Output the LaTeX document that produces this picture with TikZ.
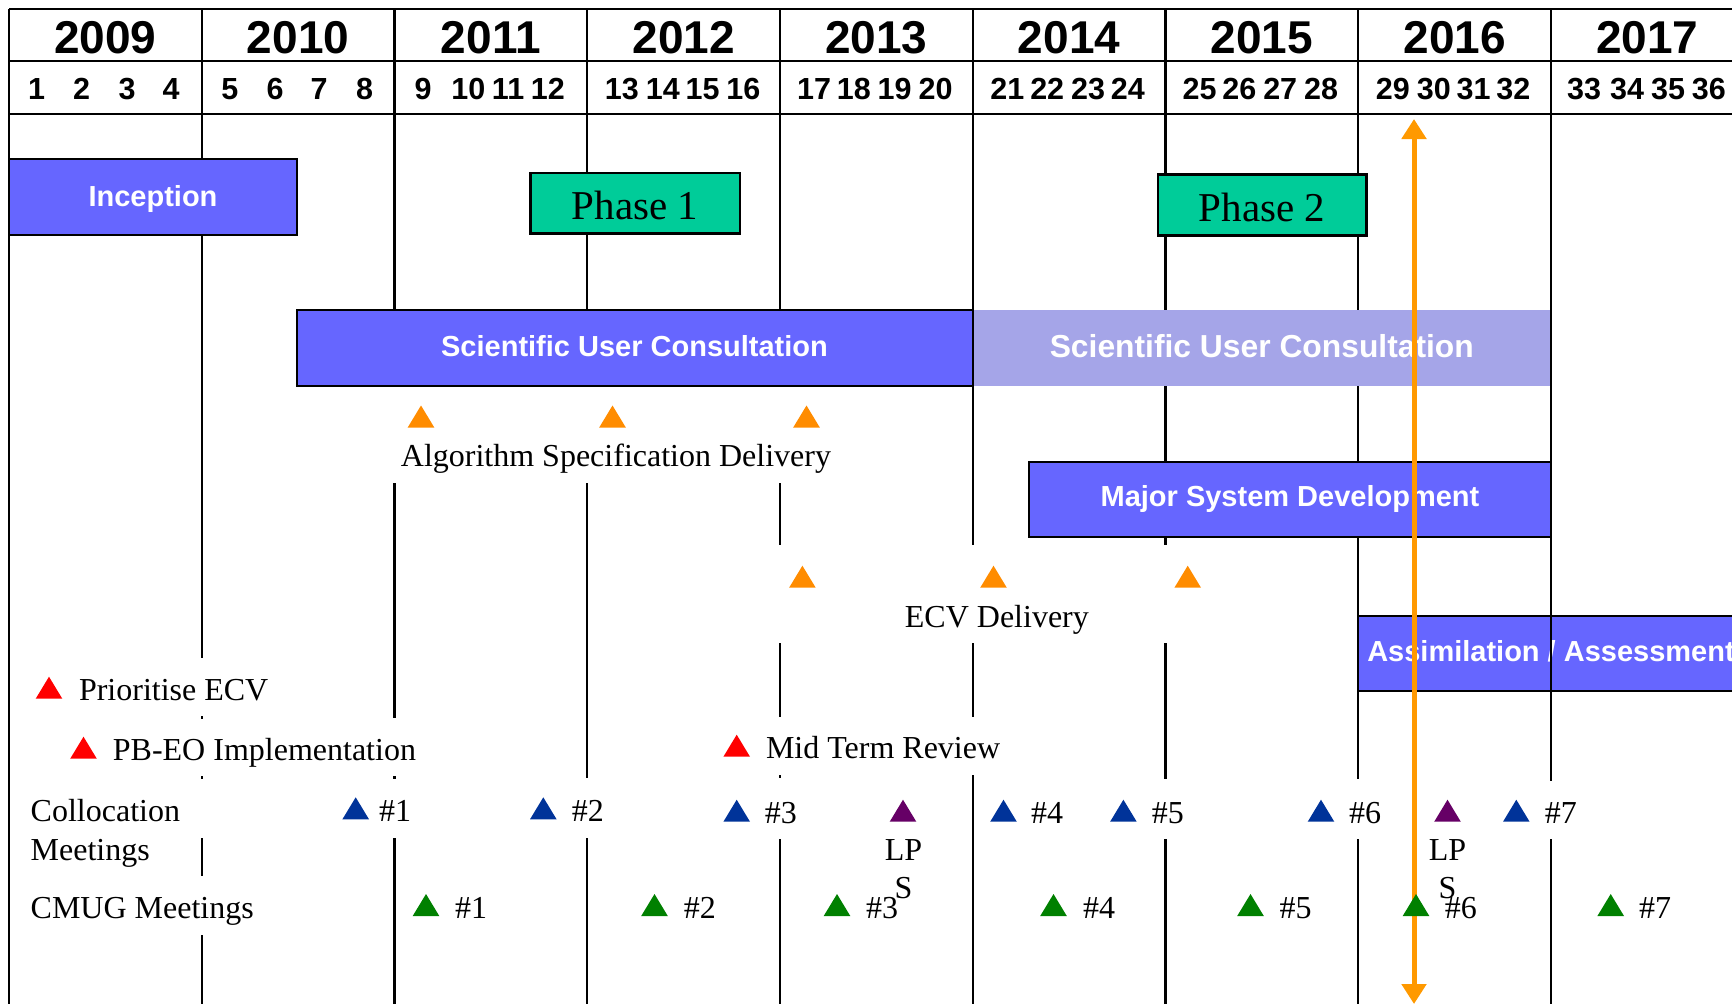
\documentclass[tikz,border=0pt]{standalone}
\usepackage{fontspec}
\setmainfont{Liberation Serif}
\setsansfont{Liberation Sans}
\usetikzlibrary{arrows.meta}
\definecolor{boxblue}{HTML}{6666FF}
\definecolor{boxlight}{HTML}{A5A5E8}
\definecolor{phasegreen}{HTML}{00CC99}
\definecolor{triorange}{HTML}{FF8C00}
\definecolor{arroworange}{HTML}{FF9900}
\definecolor{mred}{HTML}{FF0000}
\definecolor{mblue}{HTML}{003399}
\definecolor{mpurple}{HTML}{660066}
\definecolor{mgreen}{HTML}{008000}
\newcommand\mtri[3]{\fill[#1] ({#2-13.3},{#3}) -- ({#2+13.3},{#3}) -- ({#2},{#3-22}) -- cycle;}
\begin{document}
\begin{tikzpicture}[x=1pt,y=-1pt,
  gridline/.style={line width=2.2pt, black},
  headline/.style={line width=2.6pt, black},
  bar/.style={draw=black, line width=2.4pt, fill=boxblue},
  phasebox/.style={draw=black, line width=2.4pt, fill=phasegreen},
  bartext/.style={text=white, font=\sffamily\bfseries\fontsize{29}{33}\selectfont, inner sep=0pt, anchor=base},
  bigbartext/.style={text=white, font=\sffamily\bfseries\fontsize{31.8}{35}\selectfont, inner sep=0pt, anchor=base},
  phasetext/.style={font=\fontsize{41}{45}\selectfont, inner sep=0pt, anchor=base},
  lbl/.style={font=\fontsize{32}{36}\selectfont, inner sep=0pt, anchor=base west},
  lblc/.style={font=\fontsize{32}{36}\selectfont, inner sep=0pt, anchor=base},
  yeartext/.style={font=\sffamily\bfseries\fontsize{46}{50}\selectfont, inner sep=0pt, anchor=base},
  numtext/.style={font=\sffamily\bfseries\fontsize{30.5}{34}\selectfont, inner sep=0pt, anchor=base},
]
\useasboundingbox (0,0) rectangle (1732,1004);
\fill[white] (0,0) rectangle (1732,1004);
\clip (0,0) rectangle (1732,1004);

% vertical grid line segments
\foreach \x/\a/\b in {
  9/9/1004,
  201.75/9/658, 201.75/716/719, 201.75/776/779, 201.75/838/876, 201.75/935/1004,
  394.5/9/310, 394.5/483/718, 394.5/776/779, 394.5/838/1004,
  587.25/9/310, 587.25/483/778, 587.25/838/1004,
  780/9/310, 780/483/545, 780/643/717, 780/775/778, 780/839/1004,
  972.75/9/545, 972.75/643/717, 972.75/775/1004,
  1165.5/9/310, 1165.5/386/462, 1165.5/537/545, 1165.5/643/779, 1165.5/839/1004,
  1358.25/9/310, 1358.25/386/462, 1358.25/537/616, 1358.25/691/779, 1358.25/839/1004}
  \draw[gridline] (\x,\a) -- (\x,\b);

% header lines
\draw[headline] (9,9) -- (1732,9);
\draw[headline] (9,61) -- (1732,61);
\draw[headline] (9,114) -- (1732,114);

% years
\foreach \yr [count=\i from 0] in {2009,2010,2011,2012,2013,2014,2015,2016,2017}
  \node[yeartext] (y\yr) at ({9+192.75*(\i+0.5)},53.3) {\yr};

% quarter numbers
\foreach \n/\x in {1/36.5,2/81.7,3/127,4/171.2,5/229.8,6/275,7/319.2,8/364.5,
  9/423,10/468.4,11/508.1,12/547.9,13/621.9,14/662.8,15/702.5,16/743.4,
  17/814.1,18/853.9,19/894.7,20/935.6,21/1007.4,22/1047.2,23/1088,24/1127.8,
  25/1199.6,26/1239.4,27/1280.2,28/1321.1,29/1392.9,30/1433.8,31/1473.5,32/1513.3,
  33/1584,34/1627.1,35/1668,36/1708.8}
  \node[numtext] (q\n) at (\x,99.3) {\n};

% bars
\draw[bar] (9,159) rectangle (297,235);
\draw[phasebox] (530.5,173) rectangle (739.7,233.3);
\draw[phasebox] (1157.8,174.3) rectangle (1366.4,235.3);
\fill[boxlight] (972.75,310) rectangle (1551,386);
\draw[bar] (297,310) rectangle (972.75,386);
\draw[bar] (1029,462) rectangle (1551,537);
\draw[bar] (1358.25,616) rectangle (1770,691);

\node[bartext] (inception) at (153,206) {Inception};
\node[phasetext] (phase1) at (635,219.5) {Phase 1};
\node[phasetext] (phase2) at (1262,221.2) {Phase 2};
\node[bartext] (suc1) at (634.5,356.7) {Scientific User Consultation};
\node[bigbartext] (suc2) at (1261.8,357) {Scientific User Consultation};
\node[bartext] (msd) at (1290,506.7) {Major System Development};
\node[bartext] (assim) at (1551,661) {Assimilation / Assessment};

% last year line, drawn over the boxes
\draw[gridline] (1551,9) -- (1551,781);
\draw[gridline] (1551,839) -- (1551,1004);

% orange arrow
\coordinate (atop) at (1414,119);
\coordinate (abot) at (1414,1004);
\draw[line width=5pt, arroworange, {Triangle[length=20pt,width=24pt]}-{Triangle[length=20pt,width=24pt]}] (abot) -- (atop);

% algorithm specification delivery
\mtri{triorange}{421}{427.5}
\mtri{triorange}{612.5}{427.5}
\mtri{triorange}{806.5}{427.5}
\node[lbl] (asd) at (400.7,466.5) {Algorithm Specification Delivery};

% ECV delivery
\mtri{triorange}{802.4}{587.7}
\mtri{triorange}{993.5}{587.7}
\mtri{triorange}{1187.7}{587.7}
\node[lbl] (ecv) at (904.7,627.8) {ECV Delivery};

% milestones
\mtri{mred}{49}{698.7}
\node[lbl] (prio) at (78.8,700.8) {Prioritise ECV};
\mtri{mred}{83.5}{758.7}
\node[lbl] (pbeo) at (112.7,760.8) {PB-EO Implementation};
\mtri{mred}{736.7}{756.7}
\node[lbl] (mtr) at (765.8,758.8) {Mid Term Review};

% collocation meetings
\node[lbl] (coll1) at (30.5,821.5) {Collocation};
\node[lbl] (coll2) at (30.5,860.5) {Meetings};
\mtri{mblue}{355.7}{819.3}
\node[lbl] (c1) at (379,821.3) {\#1};
\mtri{mblue}{543.3}{819.3}
\node[lbl] (c2) at (571.6,821.3) {\#2};
\foreach \tx/\lx/\k in {736.7/764.7/3, 1003.5/1031/4, 1123.4/1151.7/5, 1321/1349/6, 1516.3/1544.6/7}{
  \mtri{mblue}{\tx}{821.7}
  \node[lbl] (c\k) at (\lx,823.7) {\#\k};
}
\mtri{mpurple}{903}{821.7}
\node[lblc] (lpa1) at (903.5,860.5) {LP};
\node[lblc] (lpa2) at (903.5,898.5) {S};
\mtri{mpurple}{1447.5}{821.7}
\node[lblc] (lpb1) at (1447.5,860.5) {LP};
\node[lblc] (lpb2) at (1447.5,898.5) {S};

% CMUG meetings
\node[lbl] (cmug) at (30.5,918.8) {CMUG Meetings};
\foreach \tx/\lx/\k in {426/455/1, 654.5/683.7/2, 837/866/3, 1053.5/1083/4, 1250.5/1279.3/5, 1416/1444.7/6, 1610.7/1639/7}{
  \mtri{mgreen}{\tx}{916}
  \node[lbl] (g\k) at (\lx,918.8) {\#\k};
}
\end{tikzpicture}
\end{document}
